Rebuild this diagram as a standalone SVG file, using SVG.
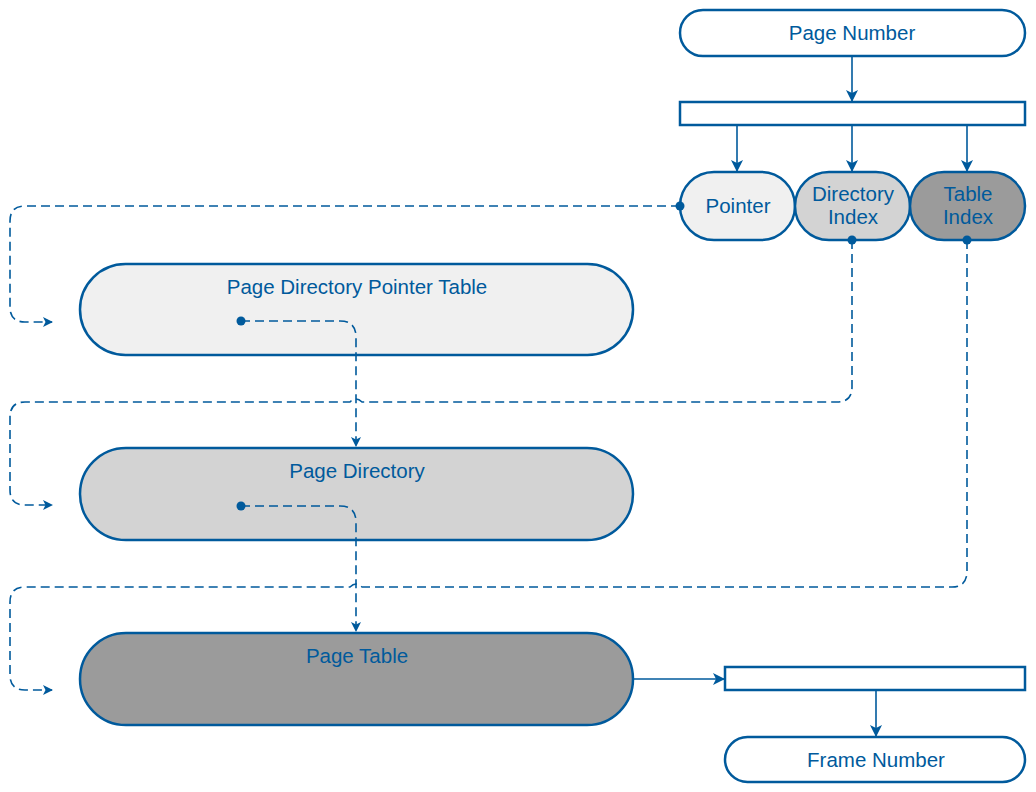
<svg xmlns="http://www.w3.org/2000/svg" width="1036" height="792" viewBox="0 0 1036 792">
<defs>
<style>
.n{stroke:#005a9c;stroke-width:2.5}
.t{font-family:"Liberation Sans",Arial,sans-serif;font-size:20.5px;fill:#005a9c;text-anchor:middle}
.s{fill:none;stroke:#005a9c;stroke-width:1.6}
.d{fill:none;stroke:#005a9c;stroke-width:1.6;stroke-dasharray:9 5}
</style>
<marker id="a" markerWidth="12" markerHeight="12" refX="11" refY="6" orient="auto" markerUnits="userSpaceOnUse">
<path d="M0,0 L12,6 L0,12 L3,6 Z" fill="#005a9c"/>
</marker>
<marker id="b" markerWidth="10" markerHeight="10" refX="9" refY="5" orient="auto" markerUnits="userSpaceOnUse">
<path d="M0,0 L10,5 L0,10 L2.5,5 Z" fill="#005a9c"/>
</marker>
</defs>
<rect width="1036" height="792" fill="#fff"/>
<g id="page-number"><rect class="n" x="680" y="10" width="345" height="46" rx="23" fill="#fff"/><text class="t" x="852" y="40">Page Number</text></g>
<g id="bar-top"><rect class="n" x="680" y="102" width="345" height="23" fill="#fff"/></g>
<g id="pointer"><rect class="n" x="680" y="172" width="115" height="68" rx="34" fill="#f0f0f0"/><text class="t" x="738" y="213">Pointer</text></g>
<g id="directory-index"><rect class="n" x="795" y="172" width="115" height="68" rx="34" fill="#d3d3d3"/><text class="t" x="853" y="201">Directory</text><text class="t" x="853" y="224">Index</text></g>
<g id="table-index"><rect class="n" x="910" y="172" width="115" height="68" rx="34" fill="#9b9b9b"/><text class="t" x="968" y="201">Table</text><text class="t" x="968" y="224">Index</text></g>
<g id="pdpt"><rect class="n" x="80" y="264" width="553" height="91" rx="45.5" fill="#f0f0f0"/><text class="t" x="357" y="294">Page Directory Pointer Table</text></g>
<g id="pd"><rect class="n" x="80" y="448" width="553" height="92" rx="46" fill="#d3d3d3"/><text class="t" x="357" y="478">Page Directory</text></g>
<g id="pt"><rect class="n" x="80" y="633" width="553" height="92" rx="46" fill="#9b9b9b"/><text class="t" x="357" y="663">Page Table</text></g>
<g id="bar-bottom"><rect class="n" x="725" y="667" width="300" height="23" fill="#fff"/></g>
<g id="frame-number"><rect class="n" x="725" y="737" width="300" height="45" rx="22.5" fill="#fff"/><text class="t" x="876" y="767">Frame Number</text></g>
<g id="connectors">
<line class="s" x1="852" y1="56" x2="852" y2="101" marker-end="url(#a)"/>
<line class="s" x1="737" y1="125" x2="737" y2="171" marker-end="url(#a)"/>
<line class="s" x1="852" y1="125" x2="852" y2="171" marker-end="url(#a)"/>
<line class="s" x1="967" y1="125" x2="967" y2="171" marker-end="url(#a)"/>
<line class="s" x1="633" y1="679" x2="724" y2="679" marker-end="url(#a)"/>
<line class="s" x1="876" y1="690" x2="876" y2="736" marker-end="url(#a)"/>
<path class="d" d="M680,206 H25 Q10,206 10,221 V307 Q10,322 25,322 H52" marker-end="url(#b)"/>
<path class="d" d="M241,321 H340 Q356,321 356,337 V446" marker-end="url(#b)"/>
<path class="d" d="M852,240 V387 Q852,402 837,402 H362 Q356,396 350,402 H25 Q10,402 10,417 V490 Q10,505 25,505 H52" marker-end="url(#b)"/>
<path class="d" d="M241,506 H340 Q356,506 356,522 V631" marker-end="url(#b)"/>
<path class="d" d="M967,240 V571 Q967,587 952,587 H362 Q356,581 350,587 H25 Q10,587 10,602 V675 Q10,690 25,690 H52" marker-end="url(#b)"/>
<circle cx="680" cy="206" r="4.5" fill="#005a9c"/>
<circle cx="852" cy="240" r="4.5" fill="#005a9c"/>
<circle cx="967" cy="240" r="4.5" fill="#005a9c"/>
<circle cx="241" cy="321" r="4.5" fill="#005a9c"/>
<circle cx="241" cy="506" r="4.5" fill="#005a9c"/>
</g>
</svg>
